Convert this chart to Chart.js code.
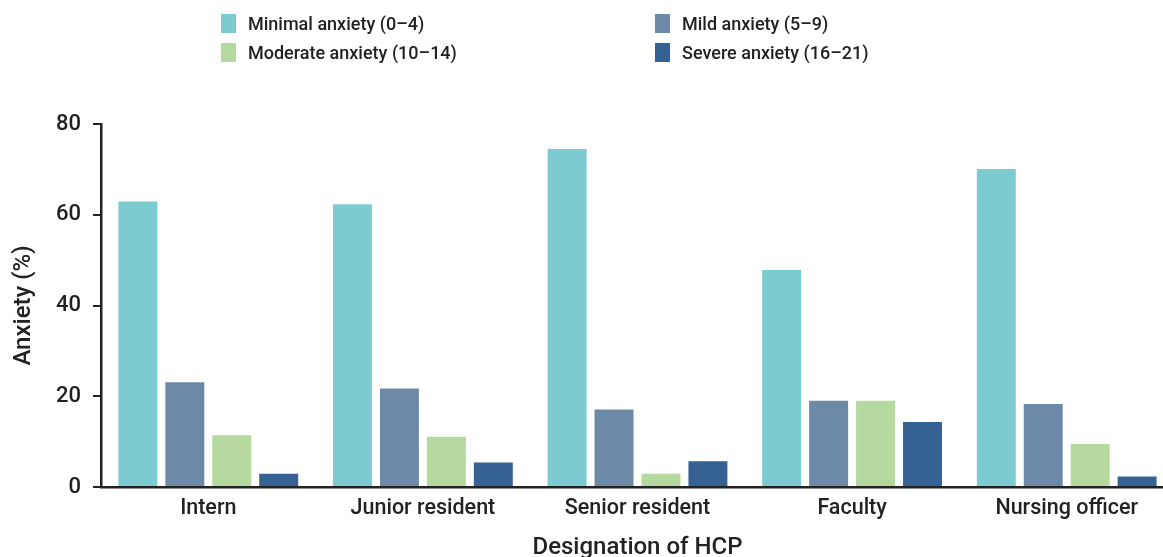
<!DOCTYPE html>
<html lang="en">
<head>
  <meta charset="UTF-8">
  <title>Anxiety by designation of HCP</title>
  <script src="https://cdn.jsdelivr.net/npm/chart.js"></script>
  <style>
    body { margin: 0; width: 1163px; height: 557px; overflow: hidden; background: #fff; font-family: Roboto, Arial, sans-serif; }
    #wrap { position: absolute; left: 0; top: 0; width: 1174px; height: 557px; }
    #legend { position: absolute; left: 221px; top: 14px; display: grid; grid-template-columns: 434px 300px; row-gap: 10px; }
    .item { display: flex; align-items: center; font-size: 18px; font-weight: 500; color: #222; height: 19px; }
    .box { width: 15px; height: 19px; margin-right: 12px; }
  </style>
</head>
<body>
  <div id="wrap"><canvas id="chart"></canvas></div>
  <div id="legend"></div>

  <script>
    const categories = ['Intern', 'Junior resident', 'Senior resident', 'Faculty', 'Nursing officer'];
    const minimal  = [62.9, 62.3, 74.5, 47.8, 70.1];
    const mild     = [23.1, 21.7, 17.1, 19.0, 18.3];
    const moderate = [11.4, 11.1, 2.9, 19.0, 9.5];
    const severe   = [2.9, 5.4, 5.7, 14.3, 2.3];
    const seriesNames = ['Minimal anxiety (0–4)', 'Mild anxiety (5–9)', 'Moderate anxiety (10–14)', 'Severe anxiety (16–21)'];
    const colors = ['#7ccbd1', '#6d89a8', '#b5d99f', '#356292'];
    const yTicks = [0, 20, 40, 60, 80];

    const seriesData = [minimal, mild, moderate, severe];
    const ink = '#222';

    const chart = new Chart(document.getElementById('chart'), {
      type: 'bar',
      data: {
        labels: categories,
        datasets: seriesData.map((d, i) => ({
          label: seriesNames[i],
          data: d,
          backgroundColor: colors[i],
          borderWidth: 0,
          categoryPercentage: 0.875,
          barPercentage: 0.83
        }))
      },
      options: {
        responsive: true,
        maintainAspectRatio: false,
        animation: false,
        layout: { padding: { top: 124, right: 0, left: 10, bottom: 0 } },
        plugins: { legend: { display: false }, tooltip: { enabled: false } },
        scales: {
          x: {
            afterFit: axis => { axis.height = 70; },
            grid: { display: false },
            border: { display: true, color: ink, width: 2.5 },
            ticks: { color: ink, font: { family: 'Roboto', size: 21.5, weight: '500' }, padding: 1 },
            title: { display: true, text: 'Designation of HCP', color: ink, font: { family: 'Roboto', size: 24, weight: '500' }, padding: { top: 0, bottom: -5 } }
          },
          y: {
            min: 0,
            max: 80,
            afterFit: axis => { axis.width = 91; },
            afterBuildTicks: axis => { axis.ticks = yTicks.map(v => ({ value: v })); },
            grid: { display: true, drawOnChartArea: false, tickLength: 8, color: ink, lineWidth: 2 },
            border: { display: true, color: ink, width: 2.5 },
            ticks: { color: ink, font: { family: 'Roboto', size: 22, weight: '500' }, padding: 12 },
            title: { display: true, text: 'Anxiety (%)', color: ink, font: { family: 'Roboto', size: 24, weight: '500' }, padding: 0 }
          }
        }
      }
    });

    // two-column legend, same order as the reference
    const legend = document.getElementById('legend');
    seriesNames.forEach((name, i) => {
      const el = document.createElement('div');
      el.className = 'item';
      el.innerHTML = '<span class="box" style="background:' + colors[i] + '"></span>' + name;
      legend.appendChild(el);
    });
  </script>
</body>
</html>
